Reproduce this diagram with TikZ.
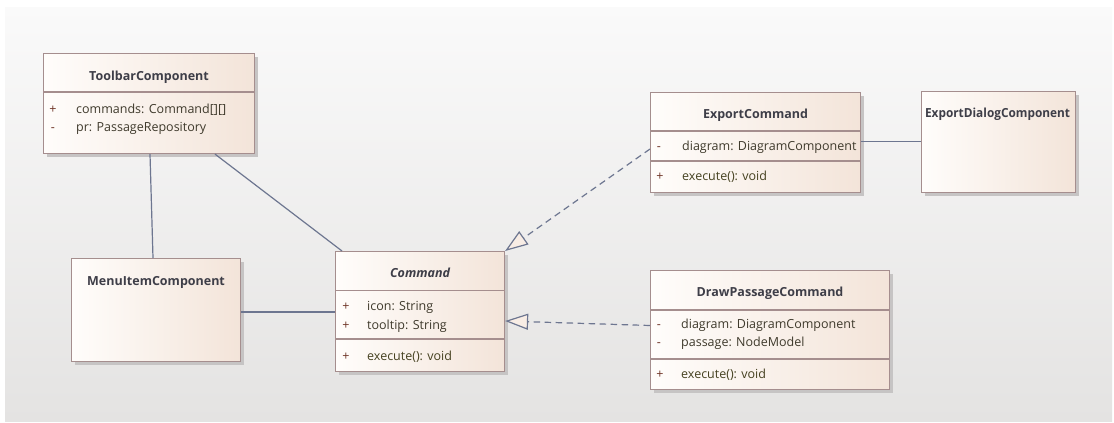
\documentclass[tikz,border=0pt]{standalone}
\usepackage{fontspec}
\usepackage{graphicx}
\setmainfont{Open Sans}
\usetikzlibrary{arrows.meta,calc}

\definecolor{bgtop}{HTML}{FAFAFA}
\definecolor{bgbot}{HTML}{E4E3E2}
\definecolor{boxl}{HTML}{FFFDFB}
\definecolor{boxr}{HTML}{F3E4D9}
\definecolor{edge}{HTML}{A58E8E}
\definecolor{shadowc}{HTML}{C6C4C4}
\definecolor{titlec}{HTML}{3E3E48}
\definecolor{attrc}{HTML}{3F3A2C}
\definecolor{opc}{HTML}{454120}
\definecolor{visc}{HTML}{6E3426}
\definecolor{link}{HTML}{6D7690}
\definecolor{tipfill}{HTML}{F8EDE5}

\tikzset{
  classbox/.style={draw=edge, line width=1.1pt, left color=boxl, right color=boxr,
    inner sep=0pt, anchor=north west},
  divider/.style={draw=edge, line width=1.1pt},
  classtitle/.style={font=\bfseries\fontsize{12.5}{15}\selectfont, text=titlec, anchor=base, inner sep=0pt},
  vis/.style={font=\fontsize{12.5}{15}\selectfont, text=visc, anchor=base, inner sep=0pt},
  attr/.style={font=\fontsize{12.5}{15}\selectfont, text=attrc, anchor=base west, inner sep=0pt},
  oper/.style={font=\fontsize{12.5}{15}\selectfont, text=opc, anchor=base west, inner sep=0pt},
  assoc/.style={draw=link, line width=1.2pt},
  realize/.style={draw=link, line width=1.2pt, dash pattern=on 6.5pt off 4.5pt,
    -{Triangle[length=23pt, width=16pt, fill=tipfill]}},
}

% class frame: name, left, top, right, bottom (with drop shadow)
\newcommand\umlframe[5]{%
  \fill[shadowc] (#2+4,#3+4) rectangle (#4+4,#5+4);
  \node[classbox, minimum width={#4-#2}, minimum height={#5-#3}] (#1) at (#2,#3) {};
}

\begin{document}
\begin{tikzpicture}[x=1pt, y=-1pt]
\useasboundingbox (0,0) rectangle (1114,423);
\fill[white] (0,0) rectangle (1114,423);
\shade[top color=bgtop, bottom color=bgbot] (5,7) rectangle (1112,421);

% ToolbarComponent
\umlframe{toolbar}{43}{53}{254}{153}
\draw[divider] ($(toolbar.north west)+(0,39)$) -- ($(toolbar.north east)+(0,39)$);
\node[classtitle] (toolbar-title) at ($(toolbar.north)+(0,27)$) {ToolbarComponent};
\node[vis] (toolbar-v1) at ($(toolbar.north west)+(10,60.5)$) {+};
\node[attr] (toolbar-a1) at ($(toolbar.north west)+(33,60.5)$) {commands: Command[][]};
\node[vis] (toolbar-v2) at ($(toolbar.north west)+(10,78)$) {-};
\node[attr] (toolbar-a2) at ($(toolbar.north west)+(33,78)$) {pr: PassageRepository};

% MenuItemComponent
\umlframe{menu}{71}{258}{240}{361}
\node[classtitle] (menu-title) at ($(menu.north)+(0,27)$) {MenuItemComponent};

% Command
\umlframe{cmd}{335}{251}{504}{371}
\draw[divider] ($(cmd.north west)+(0,39.5)$) -- ($(cmd.north east)+(0,39.5)$);
\draw[divider] ($(cmd.north west)+(0,88)$) -- ($(cmd.north east)+(0,88)$);
\node[classtitle, font=\bfseries\itshape\fontsize{12.5}{15}\selectfont] (cmd-title) at ($(cmd.north)+(0,26)$) {Command};
\node[vis] (cmd-v1) at ($(cmd.north west)+(11,59.5)$) {+};
\node[attr] (cmd-a1) at ($(cmd.north west)+(32,59.5)$) {icon: String};
\node[vis] (cmd-v2) at ($(cmd.north west)+(11,78)$) {+};
\node[attr] (cmd-a2) at ($(cmd.north west)+(32,78)$) {tooltip: String};
\node[vis] (cmd-v3) at ($(cmd.north west)+(11,109)$) {+};
\node[oper] (cmd-o1) at ($(cmd.north west)+(32,109)$) {execute(): void};

% ExportCommand
\umlframe{export}{650}{92}{860}{192}
\draw[divider] ($(export.north west)+(0,39)$) -- ($(export.north east)+(0,39)$);
\draw[divider] ($(export.north west)+(0,69)$) -- ($(export.north east)+(0,69)$);
\node[classtitle] (export-title) at ($(export.north)+(0,26)$) {ExportCommand};
\node[vis] (export-v1) at ($(export.north west)+(9,58)$) {-};
\node[attr] (export-a1) at ($(export.north west)+(32,58)$) {diagram: DiagramComponent};
\node[vis] (export-v2) at ($(export.north west)+(10,88.5)$) {+};
\node[oper] (export-o1) at ($(export.north west)+(32,88.5)$) {execute(): void};

% ExportDialogComponent
\umlframe{dialog}{921}{91}{1075}{192}
\node[classtitle] (dialog-title) at ($(dialog.north)+(-1,26)$) {\resizebox{145pt}{\height}{ExportDialogComponent}};

% DrawPassageCommand
\umlframe{draw}{650}{270}{889}{389}
\draw[divider] ($(draw.north west)+(0,40)$) -- ($(draw.north east)+(0,40)$);
\draw[divider] ($(draw.north west)+(0,89)$) -- ($(draw.north east)+(0,89)$);
\node[classtitle] (draw-title) at ($(draw.north)+(0,26)$) {DrawPassageCommand};
\node[vis] (draw-v1) at ($(draw.north west)+(9,58.5)$) {-};
\node[attr] (draw-a1) at ($(draw.north west)+(31,58.5)$) {diagram: DiagramComponent};
\node[vis] (draw-v2) at ($(draw.north west)+(9,76.5)$) {-};
\node[attr] (draw-a2) at ($(draw.north west)+(31,76.5)$) {passage: NodeModel};
\node[vis] (draw-v3) at ($(draw.north west)+(10,108.5)$) {+};
\node[oper] (draw-o1) at ($(draw.north west)+(31,108.5)$) {execute(): void};

% associations
\draw[assoc] ($(toolbar.south west)+(107,0)$) -- ($(menu.north west)+(82,0)$);
\draw[assoc] ($(toolbar.south west)+(172,0)$) -- ($(cmd.north west)+(7,0)$);
\draw[assoc] (menu.east |- 0,312) -- (cmd.west |- 0,312);
\draw[assoc] (export.east |- 0,141.5) -- (dialog.west |- 0,141.5);

% realizations of Command
\draw[realize] ($(export.north west)+(0,57)$) -- (cmd.north east);
\draw[realize] ($(draw.north west)+(0,55.5)$) -- ($(cmd.north east)+(0,70)$);
\end{tikzpicture}
\end{document}
